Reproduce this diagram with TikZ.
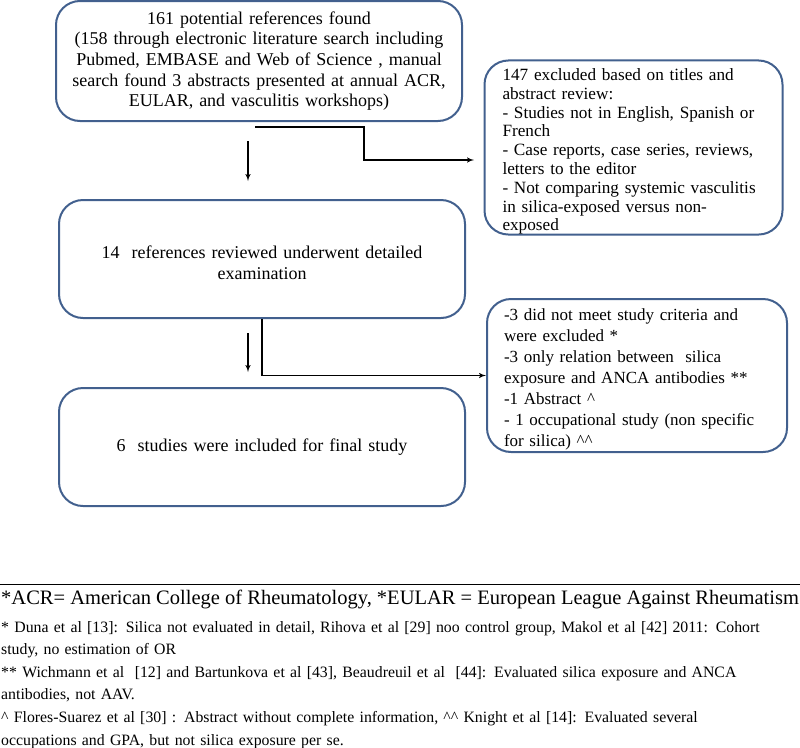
\documentclass[tikz,border=0pt]{standalone}
\usepackage{fontspec}
\setmainfont{Liberation Serif}
\usetikzlibrary{arrows,positioning}
\definecolor{boxline}{RGB}{66,96,142}
\newcommand{\lowtext}{\rule{0pt}{20pt}}
\tikzstyle{box}=[draw=boxline, line width=2pt, rounded corners=24pt, inner sep=0pt, align=center, text width=396pt, minimum width=406pt, minimum height=120pt, font=\fontsize{18}{20.7}\selectfont]
\tikzstyle{excl}=[box, align=left, text width=262pt, minimum width=298pt, font=\fontsize{17.2}{18.8}\selectfont]
\tikzstyle{line}=[->, line width=1.4pt]

\begin{document}
\begin{tikzpicture}[x=1pt,y=-1pt,>=latex']
  \useasboundingbox (0,0) rectangle (800,747);
  % flow boxes
  \node [box] (found) at (259,61) {161 potential references found\\
    (158 through electronic literature search including\\
    Pubmed, EMBASE and Web of Science , manual\\
    search found 3 abstracts presented at annual ACR,\\
    EULAR, and vasculitis workshops)};
  \node [box, minimum height=118pt] (review) at (262,259) {\lowtext 14\ \ references reviewed underwent detailed\\ examination};
  \node [box, minimum height=118pt] (final) at (262,447) {6\ \ studies were included for final study};
  \node [excl, minimum height=171pt] (excl1) at (633.5,147.5) {\lowtext 147 excluded based on titles and\\
    abstract review:\\
    - Studies not in English, Spanish or\\
    French\\
    - Case reports, case series, reviews,\\
    letters to the editor\\
    - Not comparing systemic vasculitis\\
    in silica-exposed versus non-\\
    exposed};
  \node [excl, minimum height=153pt, text width=266pt, minimum width=300pt, font=\fontsize{17}{21}\selectfont] (excl2) at (637,375.5) {\lowtext -3 did not meet study criteria and\\
    were excluded *\\
    -3 only relation between\ \ silica\\
    exposure and ANCA antibodies **\\
    -1 Abstract \^{}\\
    - 1 occupational study (non specific\\
    for silica) \^{}\^{}};
  % arrows
  \coordinate (s1) at (255,127);
  \coordinate (k1) at (364,160);
  \coordinate (e1) at (474,160);
  \draw [line] (s1) -| (k1) -- (e1);
  \coordinate (d1s) at (248,141);
  \coordinate (d1e) at (248,181);
  \draw [line] (d1s) -- (d1e);
  \coordinate (d2s) at (248,333);
  \coordinate (d2e) at (248,372);
  \draw [line] (d2s) -- (d2e);
  \draw [line] (review.south) |- (excl2.west);
  % footnotes
  \draw [line width=1pt] (0,584) -- (800,584);
  \node [anchor=west, inner sep=0pt, font=\fontsize{20.5}{24}\selectfont] (abbr) at (1,599) {*ACR= American College of Rheumatology, *EULAR = European League Against Rheumatism};
  \node [anchor=north west, inner sep=0pt, text width=798pt, align=left, font=\fontsize{15.8}{22.6}\selectfont] (notes) at (1,621) {* Duna et al [13]: Silica not evaluated in detail, Rihova et al [29] noo control group, Makol et al [42] 2011: Cohort\\
    study, no estimation of OR\\
    {}** Wichmann et al\ \ [12] and Bartunkova et al [43], Beaudreuil et al\ \ [44]: Evaluated silica exposure and ANCA\\
    antibodies, not AAV.\\
    \^{} Flores-Suarez et al [30] : Abstract without complete information, \^{}\^{} Knight et al [14]: Evaluated several\\
    occupations and GPA, but not silica exposure per se.};
\end{tikzpicture}
\end{document}
